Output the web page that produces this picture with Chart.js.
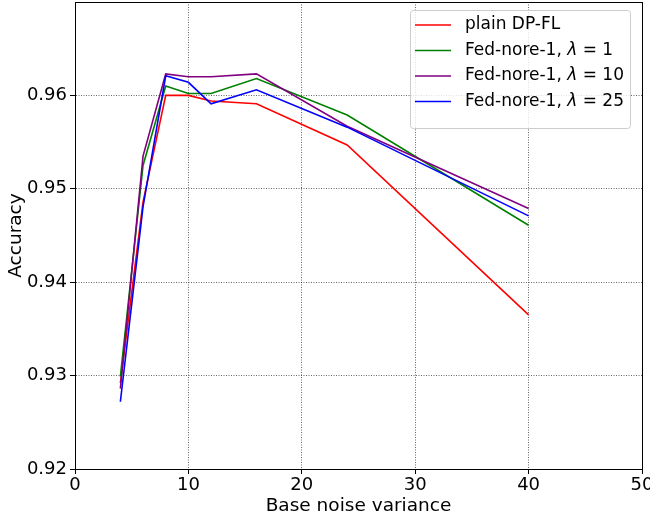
<!DOCTYPE html>
<html>
<head>
<meta charset="utf-8">
<script src="https://cdn.jsdelivr.net/npm/chart.js@4/dist/chart.umd.min.js"></script>
<style>
  html, body { margin: 0; padding: 0; background: #fff; }
  #wrap { width: 650px; height: 518px; }
</style>
</head>
<body>
<div id="wrap"><canvas id="acc-chart" width="650" height="518"></canvas></div>
<script>
"use strict"

// noise variance values where accuracy was measured
const noiseVariance = [4, 6, 8, 10, 12, 16, 24, 40];

const plainDpFl   = [0.9292, 0.9486, 0.9600, 0.9600, 0.9594, 0.9591, 0.9547, 0.9365];
const nore1Lam1   = [0.9299, 0.9525, 0.9610, 0.9602, 0.9602, 0.9618, 0.9579, 0.9461];
const nore1Lam10  = [0.9286, 0.9535, 0.9623, 0.9620, 0.9620, 0.9623, 0.9567, 0.9479];
const nore1Lam25  = [0.9272, 0.9481, 0.9621, 0.9614, 0.9591, 0.9606, 0.9566, 0.9471];

const seriesLabels = ['plain DP-FL', 'Fed-nore-1, λ = 1', 'Fed-nore-1, λ = 10', 'Fed-nore-1, λ = 25'];
const seriesColors = ['#ff0000', '#008000', '#800080', '#0000ff'];

const xTicks = [0, 10, 20, 30, 40, 50];
const yTicks = [0.92, 0.93, 0.94, 0.95, 0.96];

const FONT = "'DejaVu Sans', sans-serif";

function toPoints(values) {
    return values.map((v, i) => ({ x: noiseVariance[i], y: v }));
}

const datasets = [plainDpFl, nore1Lam1, nore1Lam10, nore1Lam25].map((vals, i) => ({
    label: seriesLabels[i],
    data: toPoints(vals),
    borderColor: seriesColors[i],
    backgroundColor: seriesColors[i],
    borderWidth: 1.6,
    pointRadius: 0,
    tension: 0,
    fill: false,
    order: 4 - i // last series on top, like matplotlib
}));

// black frame round the plot area
const framePlugin = {
    id: 'frame',
    afterDatasetsDraw(chart) {
        const { ctx, chartArea: a } = chart;
        ctx.save();
        ctx.strokeStyle = '#000';
        ctx.lineWidth = 1;
        ctx.strokeRect(Math.round(a.left) + 0.5, Math.round(a.top) + 0.5,
            Math.round(a.right - a.left), Math.round(a.bottom - a.top));
        ctx.restore();
    }
};

// matplotlib style legend in the upper right corner
const legendPlugin = {
    id: 'mplLegend',
    afterDraw(chart) {
        const { ctx, chartArea: a } = chart;
        const sets = chart.data.datasets;
        const fontSize = 17;
        const rowH = 25.5;
        const boxW = 220;
        const boxH = 16 + rowH * sets.length;
        const x0 = a.right - 12 - boxW;
        const y0 = a.top + 8;

        ctx.save();
        ctx.beginPath();
        ctx.roundRect(x0 + 0.5, y0 + 0.5, boxW, boxH, 3);
        ctx.fillStyle = 'rgba(255,255,255,0.8)';
        ctx.fill();
        ctx.strokeStyle = '#cccccc';
        ctx.lineWidth = 1;
        ctx.stroke();

        ctx.textBaseline = 'middle';
        sets.forEach((ds, i) => {
            const cy = y0 + 15 + rowH * i;
            ctx.strokeStyle = ds.borderColor;
            ctx.lineWidth = 1.6;
            ctx.beginPath();
            ctx.moveTo(x0 + 5, cy);
            ctx.lineTo(x0 + 41, cy);
            ctx.stroke();

            ctx.fillStyle = '#000';
            let tx = x0 + 55;
            const parts = ds.label.split('λ');
            parts.forEach((p, j) => {
                ctx.font = `${fontSize}px ${FONT}`;
                ctx.fillText(p, tx, cy);
                tx += ctx.measureText(p).width;
                if (j < parts.length - 1) {
                    ctx.font = `oblique ${fontSize}px ${FONT}`;
                    ctx.fillText('λ', tx, cy);
                    tx += ctx.measureText('λ').width;
                }
            });
        });
        ctx.restore();
    }
};

const gridStyle = {
    color: 'rgba(0,0,0,0.75)',
    lineWidth: 0.8,
    tickColor: '#000',
    tickLength: 5,
    tickWidth: 1,
    drawTicks: true,
    tickBorderDash: []
};

// in v4 border.dash also dashes the grid lines
const borderStyle = { display: true, color: '#000', width: 1, dash: [1, 1.5] };

const chart = new Chart(document.getElementById('acc-chart'), {
    type: 'line',
    data: { datasets: datasets },
    options: {
        responsive: false,
        animation: false,
        layout: { padding: { top: 2, right: 8, left: 0, bottom: 0 } },
        plugins: {
            legend: { display: false },
            tooltip: { enabled: false }
        },
        scales: {
            x: {
                type: 'linear',
                min: 0,
                max: 50,
                afterBuildTicks: s => { s.ticks = xTicks.map(v => ({ value: v })); },
                afterFit: s => { s.height = 49; s.paddingLeft = 0; s.paddingRight = 0; },
                ticks: {
                    color: '#000',
                    font: { family: FONT, size: 18 },
                    padding: 1,
                    maxRotation: 0
                },
                grid: Object.assign({}, gridStyle),
                border: Object.assign({}, borderStyle),
                title: {
                    display: true,
                    text: 'Base noise variance',
                    color: '#000',
                    font: { family: FONT, size: 18.5 },
                    padding: { top: 0, bottom: 1 }
                }
            },
            y: {
                type: 'linear',
                min: 0.92,
                max: 0.97,
                afterBuildTicks: s => { s.ticks = yTicks.map(v => ({ value: v })); },
                afterFit: s => { s.width = 75; s.paddingTop = 0; s.paddingBottom = 0; },
                ticks: {
                    color: '#000',
                    font: { family: FONT, size: 18 },
                    padding: 3,
                    callback: v => v.toFixed(2)
                },
                grid: Object.assign({}, gridStyle),
                border: Object.assign({}, borderStyle),
                title: {
                    display: true,
                    text: 'Accuracy',
                    color: '#000',
                    font: { family: FONT, size: 18.5 },
                    padding: { top: 5, bottom: 0 }
                }
            }
        }
    },
    plugins: [framePlugin, legendPlugin]
});
</script>
</body>
</html>
